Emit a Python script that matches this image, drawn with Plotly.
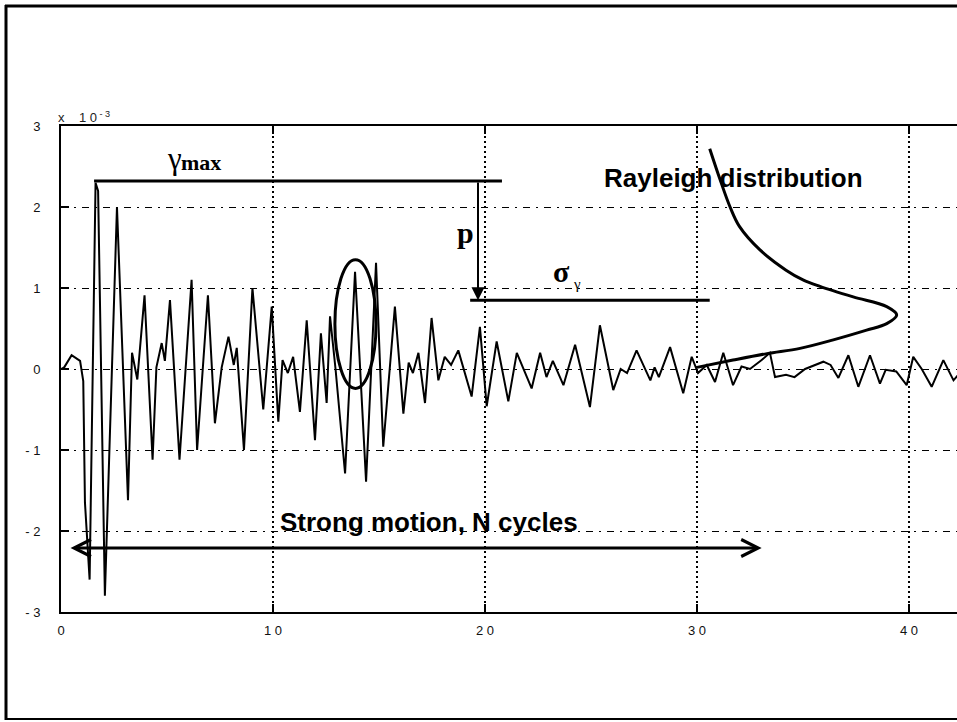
import plotly.graph_objects as go

# Shear strain time history (values in units of 1e-3), read at peaks and troughs
time_s = [0.0, 0.15, 0.5, 0.65, 0.9, 1.05, 1.13, 1.35, 1.63, 1.75, 2.07, 2.64, 3.16, 3.35, 3.6,
          3.94, 4.32, 4.5, 4.75, 4.9, 5.14, 5.59, 6.16, 6.42, 6.93, 7.26, 7.58, 7.9, 8.15, 8.29,
          8.63, 9.03, 9.54, 9.94, 10.25, 10.45, 10.7, 10.95, 11.27, 11.59, 11.98, 12.26, 12.53,
          12.69, 12.95, 13.4, 13.87, 14.39, 14.86, 15.2, 15.75, 16.15, 16.4, 16.6, 16.86, 17.17,
          17.48, 17.8, 18.1, 18.4, 18.74, 19.37, 19.76, 20.08, 20.55, 21.1, 21.5, 22.2, 22.6,
          22.9, 23.2, 23.7, 24.25, 24.95, 25.42, 26.05, 26.4, 26.7, 27.15, 27.8, 28.0, 28.2,
          28.73, 29.35, 29.75, 30.05, 30.46, 30.85, 31.24, 31.7, 32.1, 32.5, 33.05, 33.44, 33.68,
          34.2, 34.6, 35.1, 35.96, 36.3, 36.67, 37.14, 37.61, 38.16, 38.63, 38.9, 39.4, 39.89,
          40.2, 40.6, 41.07, 41.62, 42.1, 42.3]
strain_e3 = [0.0, 0.02, 0.17, 0.14, 0.10, -0.15, -1.65, -2.6, 2.3, 2.2, -2.8, 2.0, -1.62, 0.2, -0.13,
             0.91, -1.12, 0.02, 0.32, 0.1, 0.85, -1.12, 1.1, -1.0, 0.91, -0.67, 0.02, 0.4, 0.05, 0.26,
             -1.0, 1.0, -0.5, 0.77, -0.65, 0.11, -0.05, 0.15, -0.53, 0.6, -0.88, 0.44, -0.42,
             0.65, 0.0, -1.29, 1.2, -1.39, 1.31, -0.96, 0.77, -0.55, 0.08, -0.05, 0.2, -0.42,
             0.63, -0.14, 0.15, 0.05, 0.23, -0.34, 0.52, -0.46, 0.34, -0.4, 0.2, -0.24, 0.2,
             -0.1, 0.1, -0.2, 0.3, -0.47, 0.54, -0.26, 0.0, -0.05, 0.23, -0.14, 0.02, -0.1,
             0.27, -0.3, 0.15, -0.05, 0.05, -0.16, 0.2, -0.2, 0.03, 0.0, 0.11, 0.2, -0.1,
             -0.07, -0.1, 0.0, 0.09, 0.05, -0.11, 0.17, -0.22, 0.17, -0.18, -0.01, -0.03, -0.2,
             0.15, 0.0, -0.22, 0.11, -0.14, -0.08]

# Rayleigh density sketched sideways beside the record
rayleigh_t = [30.0, 31.7, 33.3, 34.86, 36.43, 38.0, 38.95, 39.42, 38.95, 37.37, 35.8, 35.0,
              34.2, 32.97, 32.0, 31.56, 31.1, 30.6]
rayleigh_y = [0.02, 0.11, 0.19, 0.255, 0.36, 0.48, 0.56, 0.667, 0.77, 0.89, 1.02, 1.1,
              1.22, 1.47, 1.76, 2.0, 2.33, 2.72]

# Marked levels
gamma_max = 2.32
sigma_level = 0.85
gamma_max_span = [1.56, 20.8]
sigma_span = [19.3, 30.6]
p_time = 19.67
strong_motion_span = [0.38, 33.05]
strong_motion_level = -2.21
ellipse_t = [12.92, 14.86]
ellipse_y = [-0.24, 1.35]

x_ticks = [0, 10, 20, 30, 40]
x_tick_text = ["0", "1 0", "2 0", "3 0", "4 0"]
y_ticks = [-3, -2, -1, 0, 1, 2, 3]
y_tick_text = ["- 3", "- 2", "- 1", "0", "1", "2", "3"]

W, H = 957, 722
L, R, T, B = 61, 0, 126, 110
pw, ph = W - L - R, H - T - B


def px(xpix):
    return (xpix - L) / pw


def py(ypix):
    return (H - B - ypix) / ph


fig = go.Figure()

fig.add_trace(go.Scatter(x=time_s, y=strain_e3, mode="lines",
                         line=dict(color="black", width=2), hoverinfo="skip"))
fig.add_trace(go.Scatter(x=rayleigh_t, y=rayleigh_y, mode="lines",
                         line=dict(color="black", width=3, shape="spline"), hoverinfo="skip"))
fig.add_trace(go.Scatter(x=gamma_max_span, y=[gamma_max, gamma_max], mode="lines",
                         line=dict(color="black", width=3), hoverinfo="skip"))
fig.add_trace(go.Scatter(x=sigma_span, y=[sigma_level, sigma_level], mode="lines",
                         line=dict(color="black", width=3), hoverinfo="skip"))

shapes = [
    dict(type="circle", xref="x", yref="y", x0=ellipse_t[0], x1=ellipse_t[1],
         y0=ellipse_y[0], y1=ellipse_y[1], line=dict(color="black", width=3)),
    # outer frame
    dict(type="line", xref="paper", yref="paper", x0=px(6), x1=px(6), y0=py(5), y1=py(720),
         line=dict(color="black", width=3)),
    dict(type="line", xref="paper", yref="paper", x0=px(5), x1=1.0, y0=py(6), y1=py(6),
         line=dict(color="black", width=3)),
    dict(type="line", xref="paper", yref="paper", x0=px(5), x1=1.0, y0=py(719), y1=py(719),
         line=dict(color="black", width=2)),
]

serif = "Liberation Serif"
sans = "Liberation Sans"
annotations = [
    # p arrow
    dict(x=p_time, y=sigma_level, ax=p_time, ay=gamma_max, xref="x", yref="y",
         axref="x", ayref="y", showarrow=True, arrowhead=2, arrowsize=1.3, arrowwidth=2,
         arrowcolor="black", text=""),
    # strong motion double arrow
    dict(x=strong_motion_span[1], y=strong_motion_level, ax=strong_motion_span[0],
         ay=strong_motion_level, xref="x", yref="y", axref="x", ayref="y", showarrow=True,
         arrowhead=5, startarrowhead=5, arrowside="end+start", arrowsize=1.1,
         startarrowsize=1.1, arrowwidth=3, arrowcolor="black", text=""),
    dict(x=5.35, y=2.60, xref="x", yref="y", text="γ", showarrow=False,
         font=dict(family=serif, size=31, color="black")),
    dict(x=6.62, y=2.55, xref="x", yref="y", text="<b>max</b>", showarrow=False,
         font=dict(family=serif, size=22, color="black")),
    dict(x=19.06, y=1.68, xref="x", yref="y", text="<b>p</b>", showarrow=False,
         font=dict(family=serif, size=30, color="black")),
    dict(x=23.63, y=1.2, xref="x", yref="y", text="<b>σ</b>", showarrow=False,
         font=dict(family=serif, size=30, color="black")),
    dict(x=24.33, y=1.05, xref="x", yref="y", text="γ", showarrow=False,
         font=dict(family=serif, size=15, color="black")),
    dict(x=31.7, y=2.36, xref="x", yref="y", text="<b>Rayleigh distribution</b>",
         showarrow=False, font=dict(family=sans, size=26, color="black")),
    dict(x=17.36, y=-1.89, xref="x", yref="y", text="<b>Strong motion, N cycles</b>",
         showarrow=False, font=dict(family=sans, size=26, color="black")),
    dict(x=px(56), y=py(117), xref="paper", yref="paper", xanchor="left", yanchor="middle",
         text="x    1 0<sup> - 3</sup>", showarrow=False,
         font=dict(family=sans, size=13, color="#222")),
]

fig.update_layout(
    width=W, height=H,
    margin=dict(l=L, r=R, t=T, b=B, pad=0),
    paper_bgcolor="white", plot_bgcolor="white",
    showlegend=False,
    shapes=shapes, annotations=annotations,
    xaxis=dict(range=[0, pw / 21.2], tickvals=x_ticks, ticktext=x_tick_text,
               showline=True, linecolor="black", linewidth=2, mirror="ticks",
               ticks="inside", ticklen=8, tickwidth=2, tickcolor="black",
               showgrid=True, gridcolor="black", gridwidth=1.5, griddash="2px,3px",
               zeroline=False, ticklabelstandoff=5,
               tickfont=dict(family=sans, size=13, color="#111")),
    yaxis=dict(range=[-3, 3], tickvals=y_ticks, ticktext=y_tick_text,
               showline=True, linecolor="black", linewidth=2, mirror=False,
               ticks="inside", ticklen=8, tickwidth=2, tickcolor="black",
               showgrid=True, gridcolor="black", gridwidth=1.2,
               griddash="7px,6px,2px,6px", zeroline=False, ticklabelstandoff=16,
               tickfont=dict(family=sans, size=13, color="#111")),
)

fig.write_html("out.html")
